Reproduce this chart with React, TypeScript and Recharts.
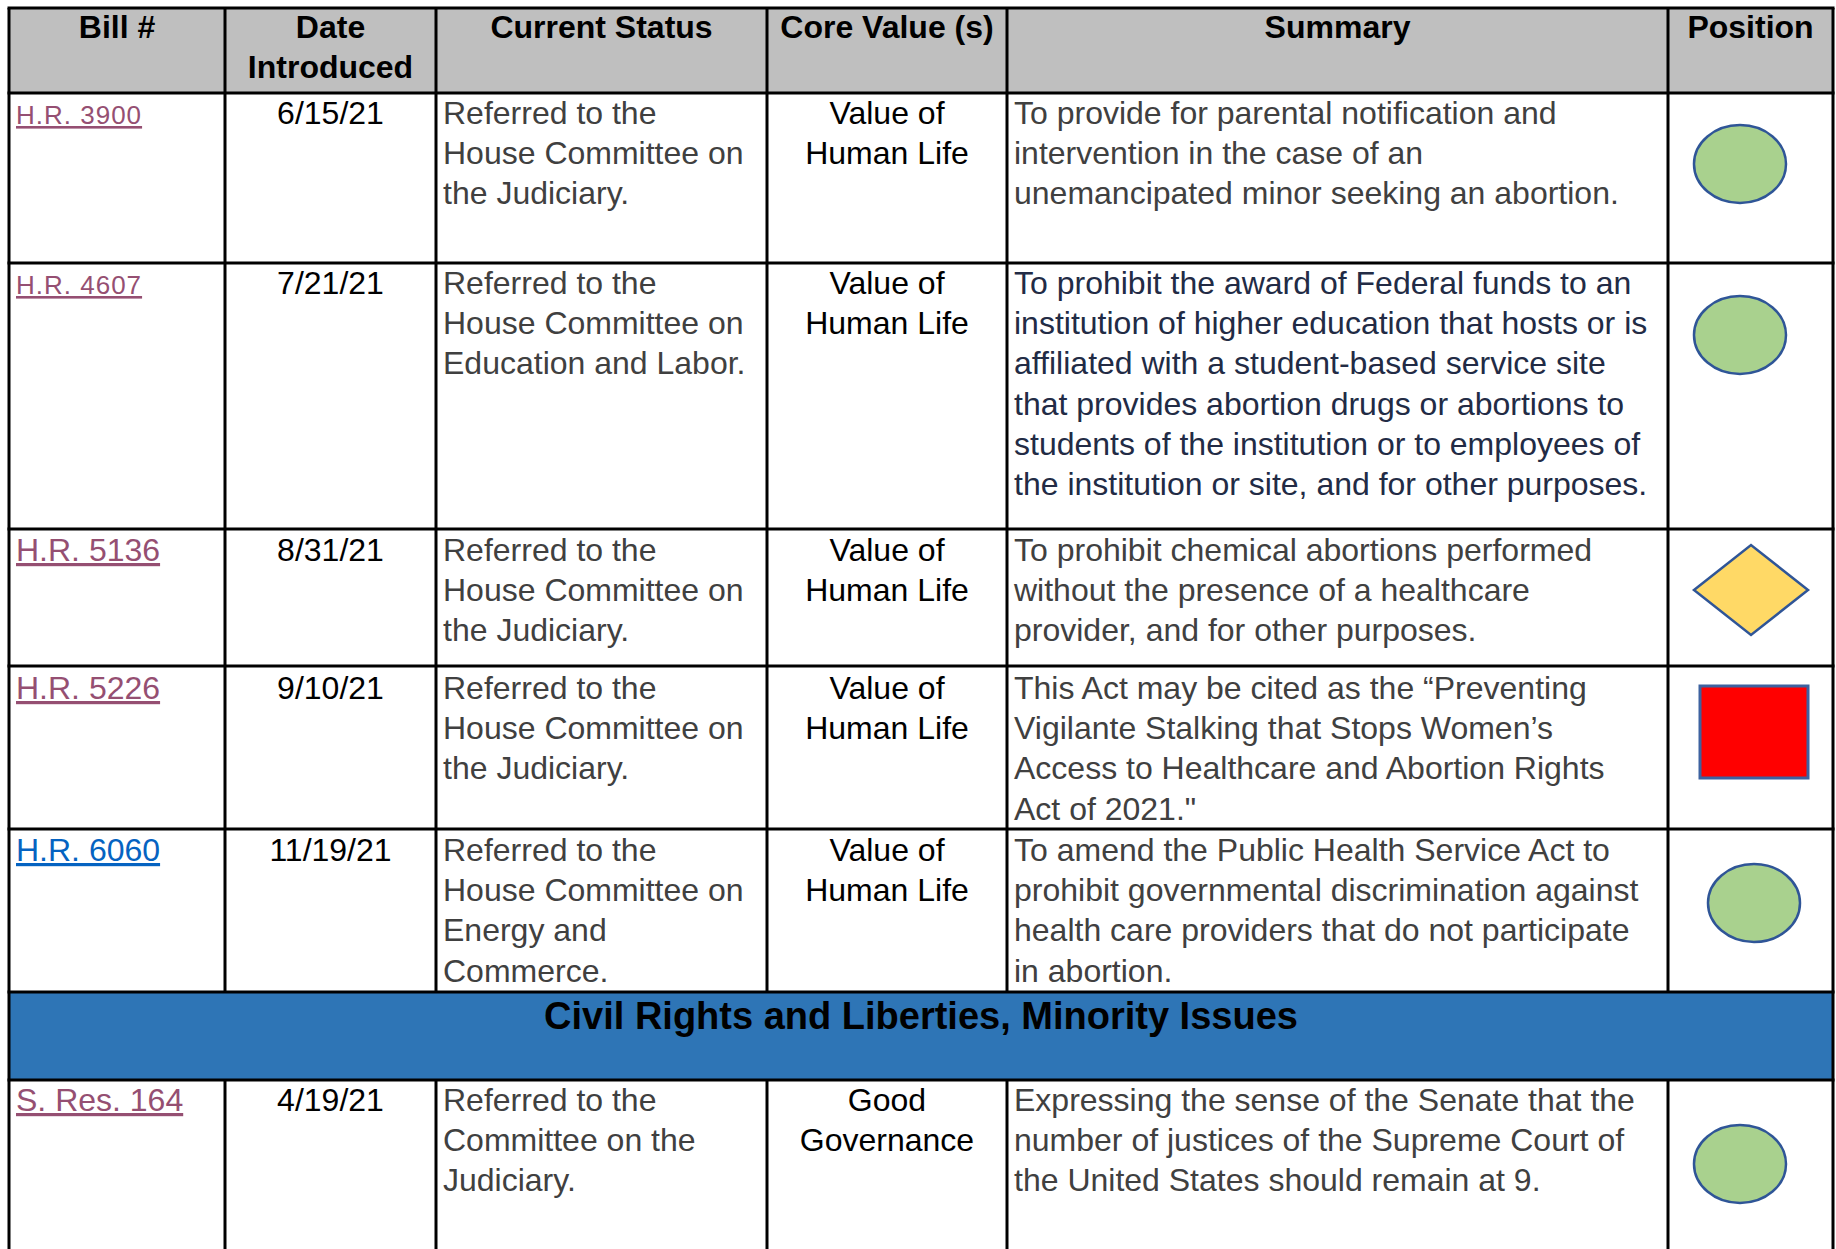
import { ComposedChart, Scatter, XAxis, YAxis, Customized } from 'recharts'

// table content
const headers = [['Bill #'], ['Date', 'Introduced'], ['Current Status'], ['Core Value (s)'], ['Summary'], ['Position']]
const bills = ['H.R. 3900', 'H.R. 4607', 'H.R. 5136', 'H.R. 5226', 'H.R. 6060', 'S. Res. 164']
const billVisited = [true, true, true, true, false, true]
const billSmall = [true, true, false, false, false, false]
const dates = ['6/15/21', '7/21/21', '8/31/21', '9/10/21', '11/19/21', '4/19/21']
const statuses = [
  ['Referred to the', 'House Committee on', 'the Judiciary.'],
  ['Referred to the', 'House Committee on', 'Education and Labor.'],
  ['Referred to the', 'House Committee on', 'the Judiciary.'],
  ['Referred to the', 'House Committee on', 'the Judiciary.'],
  ['Referred to the', 'House Committee on', 'Energy and', 'Commerce.'],
  ['Referred to the', 'Committee on the', 'Judiciary.'],
]
const coreValues = [
  ['Value of', 'Human Life'],
  ['Value of', 'Human Life'],
  ['Value of', 'Human Life'],
  ['Value of', 'Human Life'],
  ['Value of', 'Human Life'],
  ['Good', 'Governance'],
]
const summaries = [
  ['To provide for parental notification and', 'intervention in the case of an', 'unemancipated minor seeking an abortion.'],
  [
    'To prohibit the award of Federal funds to an',
    'institution of higher education that hosts or is',
    'affiliated with a student-based service site',
    'that provides abortion drugs or abortions to',
    'students of the institution or to employees of',
    'the institution or site, and for other purposes.',
  ],
  ['To prohibit chemical abortions performed', 'without the presence of a healthcare', 'provider, and for other purposes.'],
  [
    'This Act may be cited as the \u201cPreventing',
    'Vigilante Stalking that Stops Women\u2019s',
    'Access to Healthcare and Abortion Rights',
    'Act of 2021."',
  ],
  [
    'To amend the Public Health Service Act to',
    'prohibit governmental discrimination against',
    'health care providers that do not participate',
    'in abortion.',
  ],
  ['Expressing the sense of the Senate that the', 'number of justices of the Supreme Court of', 'the United States should remain at 9.'],
]
const positions = ['Support', 'Support', 'Neutral', 'Oppose', 'Support', 'Support']
const sectionTitle = 'Civil Rights and Liberties, Minority Issues'

// layout
const W = 1836
const H = 1249
const COL_X = [9, 225, 436, 767, 1007, 1668, 1833]
const HEAD_TOP = 8
const HEAD_BOTTOM = 93
const ROW_TOPS = [93, 263, 529, 666, 829, 1080]
const TEXT_DY = [31, 31, 32, 33, 32, 31]
const SECTION = [992, 1080]
const MARK_DX = [72, 72, 83, 86, 86, 72]
const MARK_DY = [71, 72, 61, 66, 74, 84]
const LINE_H = 40.2
const FS = 32
const FONT = '"Liberation Sans", Arial, sans-serif'
const GRAY = '#404040'

const markData = positions.map((p, i) => ({
  x: COL_X[5] + MARK_DX[i],
  y: ROW_TOPS[i] + MARK_DY[i],
  position: p,
}))

function PositionMark(props: any) {
  const { cx, cy, payload } = props
  const stroke = '#2F5597'
  if (payload.position === 'Neutral') {
    const pts = `${cx - 57},${cy} ${cx},${cy - 45} ${cx + 57},${cy} ${cx},${cy + 45}`
    return <polygon points={pts} fill="#FFD966" stroke={stroke} strokeWidth={2.5} />
  }
  if (payload.position === 'Oppose') {
    return <rect x={cx - 54} y={cy - 46} width={108} height={92} fill="#FF0000" stroke="#3D62A0" strokeWidth={3} />
  }
  return <ellipse cx={cx} cy={cy} rx={46} ry={39} fill="#A9D18E" stroke={stroke} strokeWidth={2.5} />
}

function Lines({ lines, x, y, anchor, fill, size = FS, weight = 'normal' }: any) {
  return (
    <>
      {lines.map((t: string, k: number) => (
        <text key={k} x={x} y={y + k * LINE_H} textAnchor={anchor} fill={fill} fontSize={size} fontWeight={weight} fontFamily={FONT}>
          {t}
        </text>
      ))}
    </>
  )
}

function TableGrid() {
  const mid = (c: number) => (COL_X[c] + COL_X[c + 1]) / 2
  return (
    <g>
      <rect x={COL_X[0]} y={HEAD_TOP} width={COL_X[6] - COL_X[0]} height={HEAD_BOTTOM - HEAD_TOP} fill="#BFBFBF" />
      <rect x={COL_X[0]} y={SECTION[0]} width={COL_X[6] - COL_X[0]} height={SECTION[1] - SECTION[0]} fill="#2E75B6" />
      {/* horizontal rules */}
      {[HEAD_TOP, HEAD_BOTTOM, ...ROW_TOPS.slice(1, 5), SECTION[0], SECTION[1]].map((y, i) => (
        <line key={`h${i}`} x1={COL_X[0] - 1.5} x2={COL_X[6] + 1.5} y1={y} y2={y} stroke="#000" strokeWidth={3} />
      ))}
      {/* vertical rules, broken by the section band */}
      {COL_X.map((x, i) => {
        const outer = i === 0 || i === COL_X.length - 1
        return (
          <g key={`v${i}`}>
            <line x1={x} x2={x} y1={HEAD_TOP} y2={outer ? H : SECTION[0]} stroke="#000" strokeWidth={3} />
            {!outer && <line x1={x} x2={x} y1={SECTION[1]} y2={H} stroke="#000" strokeWidth={3} />}
          </g>
        )
      })}
      {headers.map((h, c) => (
        <Lines key={`hd${c}`} lines={h} x={mid(c)} y={38} anchor="middle" fill="#000" weight="bold" />
      ))}
      <text x={(COL_X[0] + COL_X[6]) / 2} y={SECTION[0] + 37} textAnchor="middle" fill="#000" fontSize={38} fontWeight="bold" fontFamily={FONT}>
        {sectionTitle}
      </text>
      {bills.map((b, i) => {
        const top = ROW_TOPS[i] + TEXT_DY[i]
        return (
          <g key={`r${i}`}>
            <text
              x={COL_X[0] + 7}
              y={top}
              fill={billVisited[i] ? '#954F72' : '#0563C1'}
              fontSize={billSmall[i] ? 26 : FS}
              letterSpacing={billSmall[i] ? 1 : 0}
              fontFamily={FONT}
              textDecoration="underline"
            >
              {b}
            </text>
            <text x={mid(1)} y={top} textAnchor="middle" fill="#000" fontSize={FS} fontFamily={FONT}>
              {dates[i]}
            </text>
            <Lines lines={statuses[i]} x={COL_X[2] + 7} y={top} anchor="start" fill={GRAY} />
            <Lines lines={coreValues[i]} x={mid(3)} y={top} anchor="middle" fill="#000" />
            <Lines lines={summaries[i]} x={COL_X[4] + 7} y={top} anchor="start" fill={i === 1 ? '#222B45' : GRAY} />
          </g>
        )
      })}
    </g>
  )
}

export default function App() {
  return (
    <div style={{ width: W, height: H, background: '#fff' }}>
      <style>{'body{margin:0}'}</style>
      <ComposedChart width={W} height={H} data={markData} margin={{ top: 0, right: 0, bottom: 0, left: 0 }}>
        <XAxis type="number" dataKey="x" domain={[0, W]} hide allowDataOverflow />
        <YAxis type="number" dataKey="y" domain={[0, H]} reversed hide allowDataOverflow />
        <Customized component={<TableGrid />} />
        <Scatter data={markData} dataKey="y" shape={<PositionMark />} isAnimationActive={false} />
      </ComposedChart>
    </div>
  )
}
